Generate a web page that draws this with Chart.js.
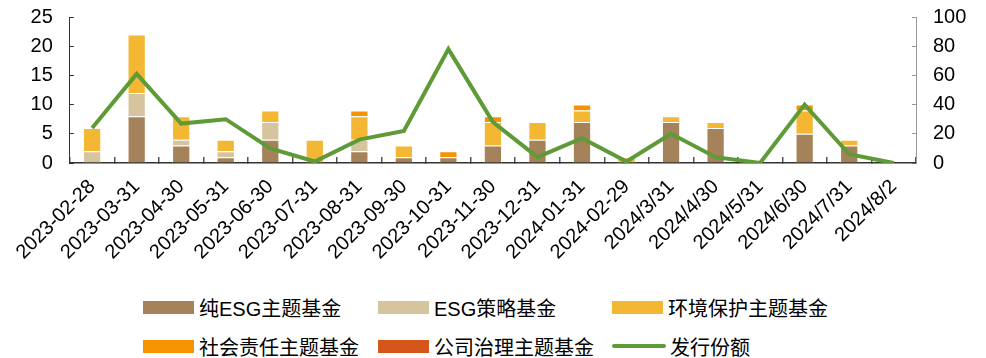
<!DOCTYPE html>
<html>
<head>
<meta charset="utf-8">
<script src="https://cdn.jsdelivr.net/npm/chart.js@4/dist/chart.umd.min.js"></script>
<style>
  body { margin: 0; background: #fff; }
  #wrap { position: relative; width: 986px; height: 358px; }
  #chartBox { position: absolute; left: 0; top: 0; width: 986px; height: 275px; }
  #legend { position: absolute; left: 143px; top: 296px; display: grid;
            grid-template-columns: 235px 234px 240px; row-gap: 17px;
            font-family: "Liberation Sans", "Noto Sans CJK SC", sans-serif; font-size: 20px; color: #000; }
  .item { display: flex; align-items: center; height: 22px; white-space: nowrap; }
  .sw { width: 51px; height: 13px; margin-right: 5px; }
  .ln { width: 54px; height: 4px; margin-right: 4px; border-radius: 2px; }
</style>
</head>
<body>
<div id="wrap">
  <div id="chartBox"><canvas id="esgChart"></canvas></div>
  <div id="legend"></div>
</div>
<script>
const categories = ['2023-02-28', '2023-03-31', '2023-04-30', '2023-05-31', '2023-06-30', '2023-07-31',
  '2023-08-31', '2023-09-30', '2023-10-31', '2023-11-30', '2023-12-31', '2024-01-31', '2024-02-29',
  '2024/3/31', '2024/4/30', '2024/5/31', '2024/6/30', '2024/7/31', '2024/8/2'];

// fund counts (left axis)
const pureEsg     = [0, 8, 3, 1, 4, 0, 2, 1, 1, 3, 4, 7, 0, 7, 6, 0, 5, 3, 0];
const esgStrategy = [2, 4, 1, 1, 3, 0, 2, 0, 0, 0, 0, 0, 0, 0, 0, 0, 0, 0, 0];
const environment = [4, 10, 4, 2, 2, 4, 4, 2, 0, 4, 3, 2, 1, 1, 1, 0, 4, 1, 0];
const social      = [0, 0, 0, 0, 0, 0, 1, 0, 1, 1, 0, 1, 0, 0, 0, 0, 1, 0, 0];
const governance  = [0, 0, 0, 0, 0, 0, 0, 0, 0, 0, 0, 0, 0, 0, 0, 0, 0, 0, 0];
// issuance (right axis)
const issuance = [24, 61, 27, 30, 10, 1, 16, 22, 78, 28, 4, 17, 1, 20, 4, 0, 40, 6, 0];

const FONT = '"Liberation Sans", "Noto Sans CJK SC", sans-serif';

const barSeries = [
  { label: '纯ESG主题基金', data: pureEsg, color: '#A6825A' },
  { label: 'ESG策略基金', data: esgStrategy, color: '#D6C49E' },
  { label: '环境保护主题基金', data: environment, color: '#F4B734' },
  { label: '社会责任主题基金', data: social, color: '#F59300' },
  { label: '公司治理主题基金', data: governance, color: '#D4561A' },
];
const lineSeries = { label: '发行份额', data: issuance, color: '#5E9A36' };

const datasets = barSeries.map(s => ({
  type: 'bar',
  label: s.label,
  data: s.data,
  backgroundColor: s.color,
  borderColor: 'rgba(255,255,255,0.5)',
  borderWidth: 1,
  barPercentage: 0.41,
  categoryPercentage: 1,
  stack: 'funds',
  yAxisID: 'y',
  order: 1,
}));
datasets.push({
  type: 'line',
  label: lineSeries.label,
  data: lineSeries.data,
  borderColor: lineSeries.color,
  borderWidth: 4,
  pointRadius: 0,
  tension: 0,
  yAxisID: 'y1',
  order: 0,
});

// keep the y-axis label padding from pushing the plot top down
const fixY = width => s => { s.width = width; s.paddingTop = 10; s.paddingBottom = 10; };

const ctx = document.getElementById('esgChart').getContext('2d');
new Chart(ctx, {
  data: { labels: categories, datasets: datasets },
  options: {
    responsive: true,
    maintainAspectRatio: false,
    animation: false,
    layout: { padding: { top: 17, left: 0, right: 0, bottom: 0 } },
    plugins: { legend: { display: false }, tooltip: { enabled: false } },
    scales: {
      x: {
        stacked: true,
        grid: { offset: true, drawOnChartArea: false, tickLength: -6, tickColor: '#555', lineWidth: 1.5 },
        border: { color: '#333', width: 1.5 },
        ticks: { color: '#000', font: { family: FONT, size: 20 }, minRotation: 45, maxRotation: 45, padding: 18, autoSkip: false },
        afterFit: s => { s.height = 275 - 163; },
      },
      y: {
        position: 'left',
        stacked: true,
        min: 0, max: 25,
        grid: { drawOnChartArea: false, tickLength: -4, tickColor: '#333' },
        border: { color: '#333', width: 1 },
        ticks: { stepSize: 5, autoSkip: false, color: '#000', font: { family: FONT, size: 20 }, padding: 21 },
        afterFit: fixY(68),
      },
      y1: {
        position: 'right',
        min: 0, max: 100,
        grid: { drawOnChartArea: false, tickLength: -4, tickColor: '#999' },
        border: { color: '#999', width: 1 },
        ticks: { stepSize: 20, autoSkip: false, color: '#000', font: { family: FONT, size: 20 }, padding: 21 },
        afterFit: fixY(986 - 916),
      },
    },
  },
});

// legend laid out as in the source: three columns, two rows
const legendEl = document.getElementById('legend');
const legendItems = barSeries.map(s => ({ label: s.label, color: s.color, line: false }))
  .concat([{ label: lineSeries.label, color: lineSeries.color, line: true }]);
legendItems.forEach(it => {
  const div = document.createElement('div');
  div.className = 'item';
  const sw = document.createElement('span');
  sw.className = it.line ? 'ln' : 'sw';
  sw.style.background = it.color;
  const txt = document.createElement('span');
  txt.textContent = it.label;
  div.appendChild(sw);
  div.appendChild(txt);
  legendEl.appendChild(div);
});
</script>
</body>
</html>
